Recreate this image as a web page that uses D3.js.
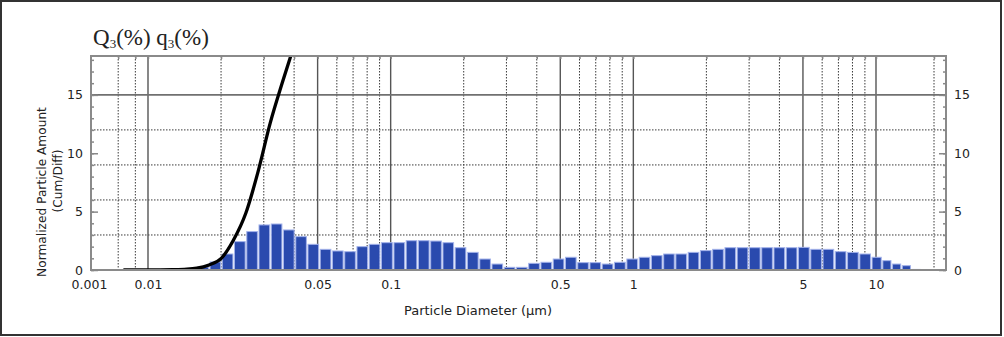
<!DOCTYPE html>
<html>
<head>
<meta charset="utf-8">
<script src="https://cdn.jsdelivr.net/npm/d3@7"></script>
<style>
  body { margin: 0; background: #fff; }
  text { font-family: "DejaVu Sans", sans-serif; fill: #222; }
</style>
</head>
<body>
<div id="chart"></div>
<script>
// Histogram bin edges (µm), 61 edges -> 60 bins
const binEdges = [0.01589, 0.01785, 0.02004, 0.02251, 0.02529, 0.02840, 0.03190, 0.03583, 0.04024, 0.04520,
  0.05077, 0.05703, 0.06405, 0.07195, 0.08081, 0.09077, 0.1022, 0.1148, 0.1289, 0.1448,
  0.1627, 0.1827, 0.2052, 0.2307, 0.2591, 0.2910, 0.3269, 0.3671, 0.4124, 0.4632,
  0.5203, 0.5844, 0.6564, 0.7373, 0.8281, 0.9317, 1.047, 1.176, 1.321, 1.483,
  1.667, 1.872, 2.103, 2.363, 2.654, 2.982, 3.349, 3.762, 4.227, 4.749,
  5.335, 5.993, 6.732, 7.562, 8.496, 9.543, 10.72, 12.04, 13.53, 15.20, 17.08];

// q3 (differential) per bin
const q3Values = [0.25, 0.69, 1.37, 2.43, 3.29, 3.86, 3.94, 3.43, 2.86, 2.2,
  1.77, 1.63, 1.57, 2.0, 2.2, 2.34, 2.34, 2.51, 2.51, 2.48,
  2.34, 1.91, 1.51, 0.94, 0.51, 0.23, 0.23, 0.57, 0.66, 0.94,
  1.09, 0.63, 0.63, 0.51, 0.66, 0.94, 1.09, 1.23, 1.37, 1.37,
  1.51, 1.66, 1.77, 1.91, 1.91, 1.91, 1.91, 1.91, 1.91, 1.94,
  1.77, 1.77, 1.57, 1.51, 1.37, 1.09, 0.8, 0.51, 0.37, 0.05];

// Q3 (cumulative) curve
const cumDiameters = [0.0037, 0.01, 0.0126, 0.0141, 0.01589, 0.01785, 0.02004, 0.02251, 0.02529, 0.02840, 0.03190, 0.03583, 0.04024];
const cumValues = [0, 0, 0.02, 0.06, 0.15, 0.43, 1.0, 2.57, 4.86, 8.4, 12.6, 16.1, 19.4];

// Axis ticks and grid
const xTickValues = [0.001, 0.01, 0.05, 0.1, 0.5, 1, 5, 10];
const yTickValues = [0, 5, 10, 15];
const xMajorGrid = [0.01, 0.05, 0.1, 0.5, 1, 5, 10];
const xMinorGrid = [0.003, 0.006, 0.02, 0.03, 0.04, 0.06, 0.07, 0.08, 0.09, 0.2, 0.3, 0.4,
  0.6, 0.7, 0.8, 0.9, 2, 3, 4, 6, 7, 8, 9, 20];
const yMajorGrid = [15];
const yMinorGrid = [3, 6, 9, 12];

const W = 1004, H = 337;
const margin = { top: 56, right: 58, bottom: 67, left: 91 },
      width = W - margin.left - margin.right,
      height = H - margin.top - margin.bottom;

const svgRoot = d3.select("#chart").append("svg")
  .attr("width", W).attr("height", H);

// outer frame
svgRoot.append("rect")
  .attr("x", 1).attr("y", 1).attr("width", 1000).attr("height", 334)
  .attr("fill", "#fff").attr("stroke", "#333").attr("stroke-width", 2);

const svg = svgRoot.append("g").attr("transform", `translate(${margin.left},${margin.top})`);

// log scale, first decade is squeezed in the original
const x = d3.scaleLog().domain([0.001, 0.01, 10, 20]).range([0, 57, 785, 843]);
const y = d3.scaleLinear().domain([0, 18.33]).range([height, 0]);

svg.append("clipPath").attr("id", "plot-clip")
  .append("rect").attr("width", width).attr("height", height);

// grid
svg.selectAll(".vminor").data(xMinorGrid).enter().append("line")
  .attr("x1", d => x(d)).attr("x2", d => x(d)).attr("y1", 0).attr("y2", height)
  .attr("stroke", "#3a3a3a").attr("stroke-width", 1).attr("stroke-dasharray", "1.5,1.5");
svg.selectAll(".hminor").data(yMinorGrid).enter().append("line")
  .attr("x1", 0).attr("x2", width).attr("y1", d => y(d)).attr("y2", d => y(d))
  .attr("stroke", "#3a3a3a").attr("stroke-width", 1).attr("stroke-dasharray", "1.5,1.5");
svg.selectAll(".vmajor").data(xMajorGrid).enter().append("line")
  .attr("x1", d => x(d)).attr("x2", d => x(d)).attr("y1", 0).attr("y2", height)
  .attr("stroke", "#555").attr("stroke-width", 1.4);
svg.selectAll(".hmajor").data(yMajorGrid).enter().append("line")
  .attr("x1", 0).attr("x2", width).attr("y1", d => y(d)).attr("y2", d => y(d))
  .attr("stroke", "#707070").attr("stroke-width", 1.6);

// bars
const bins = q3Values.map((v, i) => ({ x0: binEdges[i], x1: binEdges[i + 1], v }));
svg.selectAll(".bar").data(bins).enter().append("rect")
  .attr("class", "bar")
  .attr("x", d => x(d.x0) + 1)
  .attr("width", d => x(d.x1) - x(d.x0) - 1.6)
  .attr("y", d => y(d.v))
  .attr("height", d => y(0) - y(d.v))
  .attr("fill", "#2a4aae")
  .attr("stroke", "#a3b2ea")
  .attr("stroke-width", 1);

// cumulative curve
const cum = cumDiameters.map((d, i) => ({ d, v: cumValues[i] }));
svg.append("path")
  .datum(cum)
  .attr("clip-path", "url(#plot-clip)")
  .attr("fill", "none")
  .attr("stroke", "#000")
  .attr("stroke-width", 3.3)
  .attr("d", d3.line().x(d => x(d.d)).y(d => y(d.v)).curve(d3.curveMonotoneX));

// plot border
svg.append("rect")
  .attr("width", width).attr("height", height)
  .attr("fill", "none").attr("stroke", "#8a8a8a").attr("stroke-width", 2);

// inner ticks on left / right / top
const yMinor = d3.range(0, 19);
const leftTicks = svg.append("g").call(d3.axisRight(y).tickValues(yMinor).tickSize(3).tickFormat(""));
const rightTicks = svg.append("g").attr("transform", `translate(${width},0)`)
  .call(d3.axisLeft(y).tickValues(yMinor).tickSize(3).tickFormat(""));
const leftMajor = svg.append("g").call(d3.axisRight(y).tickValues(yTickValues).tickSize(7).tickFormat(""));
const rightMajor = svg.append("g").attr("transform", `translate(${width},0)`)
  .call(d3.axisLeft(y).tickValues(yTickValues).tickSize(7).tickFormat(""));
const topTicks = svg.append("g")
  .call(d3.axisBottom(x).tickValues(xMinorGrid.concat(xMajorGrid)).tickSize(3).tickFormat(""));
[leftTicks, rightTicks, leftMajor, rightMajor, topTicks].forEach(g => {
  g.select(".domain").remove();
  g.selectAll("line").attr("stroke", "#888").attr("stroke-width", 1.5);
});

// tick labels
const xAxis = svg.append("g").attr("transform", `translate(0,${height})`)
  .call(d3.axisBottom(x).tickValues(xTickValues).tickSize(0).tickPadding(10)
    .tickFormat(d => String(d)));
const yAxisL = svg.append("g")
  .call(d3.axisLeft(y).tickValues(yTickValues).tickSize(0).tickPadding(8));
const yAxisR = svg.append("g").attr("transform", `translate(${width},0)`)
  .call(d3.axisRight(y).tickValues(yTickValues).tickSize(0).tickPadding(8));
[xAxis, yAxisL, yAxisR].forEach(g => {
  g.select(".domain").remove();
  g.selectAll("text").style("font-family", "DejaVu Sans, sans-serif")
    .style("font-size", "12.5px").attr("fill", "#222");
});
xAxis.selectAll("text").filter(d => d === 0.001).attr("dx", -2);

// axis titles
svgRoot.append("text")
  .attr("x", 478).attr("y", 315)
  .attr("text-anchor", "middle")
  .style("font-size", "13px")
  .text("Particle Diameter (μm)");

svgRoot.append("text")
  .attr("transform", "translate(46,192) rotate(-90)")
  .attr("text-anchor", "middle")
  .style("font-size", "12.2px")
  .text("Normalized Particle Amount");

svgRoot.append("text")
  .attr("transform", "translate(62,181) rotate(-90)")
  .attr("text-anchor", "middle")
  .style("font-size", "12.2px")
  .text("(Cum/Diff)");

// title Q3(%) q3(%)
const title = svgRoot.append("text")
  .attr("x", 93).attr("y", 45)
  .style("font-family", "Liberation Serif, serif")
  .style("font-size", "23px")
  .attr("fill", "#1c2530");
title.append("tspan").text("Q");
title.append("tspan").attr("dy", 3).style("font-size", "13px").text("3");
title.append("tspan").attr("dy", -3).text("(%) q");
title.append("tspan").attr("dy", 3).style("font-size", "13px").text("3");
title.append("tspan").attr("dy", -3).text("(%)");
</script>
</body>
</html>
